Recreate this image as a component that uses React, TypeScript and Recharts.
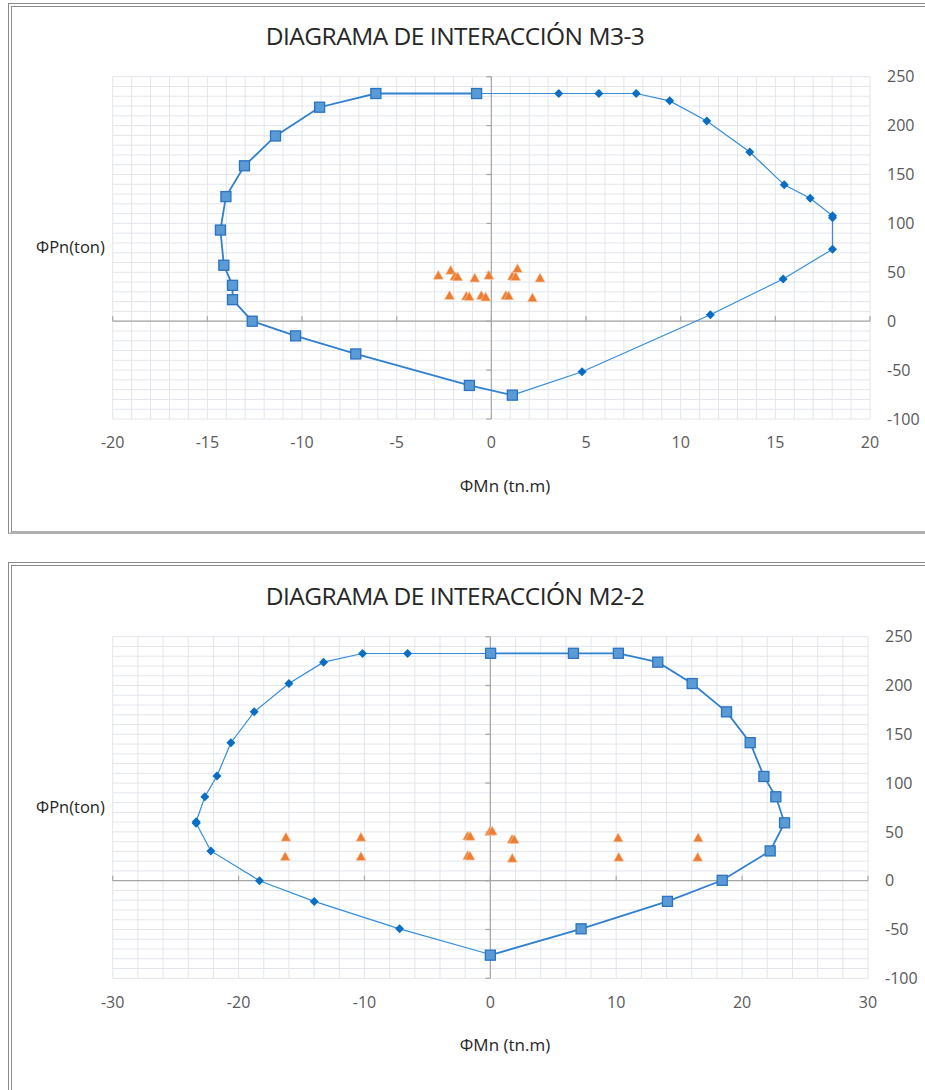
import React from "react";
import {
  ScatterChart,
  Scatter,
  XAxis,
  YAxis,
  CartesianGrid,
  ReferenceLine,
} from "recharts";

// ---- M3-3 ----
const m33Neg = [
  [-0.78, 232.8], [-6.1, 232.8], [-9.07, 218.8], [-11.4, 189.4], [-13.04, 158.9],
  [-14.02, 127.4], [-14.31, 93.2], [-14.13, 57.2], [-13.67, 36.7], [-13.67, 22],
  [-12.63, 0], [-10.34, -15], [-7.16, -33.5], [-1.16, -65.7], [1.11, -75.6],
];
const m33Pos = [
  [-0.78, 232.8], [3.56, 232.8], [5.68, 232.8], [7.65, 232.8], [9.42, 225.3],
  [11.38, 204.8], [13.65, 173], [15.47, 139.4], [16.84, 125.7], [18.02, 107.8],
  [18.02, 105.8], [18.02, 73.6], [15.41, 43.1], [11.57, 6.6], [4.79, -51.7], [1.11, -75.6],
];
const m33Loads = [
  [-2.8, 46.9], [-2.15, 52.1], [-1.93, 45.9], [-1.78, 45.5], [-0.88, 44.2], [-0.13, 46.9],
  [1.11, 46.2], [1.28, 45.6], [1.38, 53.8], [2.57, 44.2],
  [-2.21, 26.4], [-1.32, 25.7], [-1.17, 25.3], [-0.53, 26.4], [-0.3, 24.7], [0.76, 26.4],
  [0.91, 26.0], [2.17, 24.0],
];
const m33XTicks = [-20, -15, -10, -5, 0, 5, 10, 15, 20];

// ---- M2-2 ----
const m22Left = [
  [0, 232.8], [-6.57, 232.8], [-10.15, 232.8], [-13.25, 223.9], [-16.0, 202],
  [-18.76, 173], [-20.61, 141.4], [-21.72, 107.2], [-22.68, 86], [-23.37, 60.5],
  [-23.37, 58.8], [-22.2, 30.5], [-18.34, 0], [-13.99, -21.2], [-7.21, -49.3], [0, -75.6],
];
const m22Right = [
  [0.02, 233.0], [6.6, 233.0], [10.17, 233.0], [13.3, 223.9], [16.03, 202], [18.76, 173],
  [20.64, 141.4], [21.73, 106.8], [22.68, 86], [23.37, 59.3], [22.23, 30.5], [18.42, 0.4],
  [14.07, -21.2], [7.21, -49.3], [0, -76.3],
];
const m22Loads = [
  [-16.24, 44.6], [-10.28, 44.6], [-1.8, 45.9], [-1.6, 45.5], [-0.05, 50.3], [0.15, 51],
  [1.72, 42.5], [1.9, 42.2], [10.15, 43.9], [16.51, 43.9],
  [-16.3, 24.7], [-10.28, 24.7], [-1.8, 25.7], [-1.62, 25.3], [1.74, 23], [10.2, 24],
  [16.47, 24],
];
const m22XTicks = [-30, -20, -10, 0, 10, 20, 30];

const yTicks = [-100, -50, 0, 50, 100, 150, 200, 250];

const pts = (arr: number[][]) => arr.map(([x, y]) => ({ x, y }));

function range(a: number, b: number, s: number) {
  const r: number[] = [];
  for (let v = a; v <= b + 1e-9; v += s) r.push(Math.round(v * 100) / 100);
  return r;
}

const FONT = "'Open Sans', sans-serif";

const Square = (p: any) => (
  <rect x={p.cx - 5} y={p.cy - 5} width={10} height={10} fill="#5b9bd5" stroke="#2a72c2" strokeWidth={1.3} />
);
const Diamond = (p: any) => (
  <polygon
    points={`${p.cx},${p.cy - 4.5} ${p.cx + 4.5},${p.cy} ${p.cx},${p.cy + 4.5} ${p.cx - 4.5},${p.cy}`}
    fill="#0a6ec4"
  />
);
const Triangle = (p: any) => (
  <polygon
    points={`${p.cx},${p.cy - 5} ${p.cx + 5},${p.cy + 4} ${p.cx - 5},${p.cy + 4}`}
    fill="#ed7d31"
    stroke="#f8cbad"
    strokeWidth={0.6}
  />
);

type DiagramProps = {
  top: number;
  height: number;
  plotRight: number;
  plotBottom: number;
  xTicks: number[];
  xMinor: number;
  thinSeries: number[][];
  thinShape: any;
  thickSeries: number[][];
  thickShape: any;
  loads: number[][];
  title: string;
};

function Diagram(p: DiagramProps) {
  const xMin = p.xTicks[0];
  const xMax = p.xTicks[p.xTicks.length - 1];
  const minorX = range(xMin, xMax, p.xMinor);
  const minorY = range(-100, 250, 10);
  const pxPerX = (p.plotRight - 112.7) / (xMax - xMin);
  const pxPerY = (p.plotBottom - 76.7) / 350;
  const tickX = 5 / pxPerX;
  const tickY = 5 / pxPerY;
  return (
    <div style={{ position: "absolute", left: 0, top: p.top, width: 925, height: p.height }}>
      <div
        style={{
          position: "absolute",
          left: 0,
          width: 910,
          top: 19,
          textAlign: "center",
          fontFamily: FONT,
          fontSize: 24.5,
          color: "#262626",
          letterSpacing: -0.5,
        }}
      >
        {p.title}
      </div>
      <div style={{ position: "absolute", left: 36, top: 235, fontFamily: FONT, fontSize: 16.5, color: "#262626" }}>
        ΦPn(ton)
      </div>
      <div
        style={{
          position: "absolute",
          left: 405,
          width: 200,
          textAlign: "center",
          top: p.plotBottom + 55,
          fontFamily: FONT,
          fontSize: 17,
          color: "#262626",
        }}
      >
        ΦMn (tn.m)
      </div>
      <ScatterChart
        width={925}
        height={p.height}
        margin={{ top: 76.7, left: 112.7, right: 925 - p.plotRight - 40, bottom: p.height - p.plotBottom - 30 }}
        style={{ position: "absolute", left: 0, top: 0, fontFamily: FONT }}
      >
        <CartesianGrid stroke="#e2e6ec" strokeWidth={1} />
        <XAxis
          type="number"
          dataKey="x"
          domain={[xMin, xMax]}
          ticks={minorX}
          interval={0}
          height={30}
          axisLine={false}
          tickLine={false}
          tickMargin={12}
          tickFormatter={(v: number) => (p.xTicks.includes(v) ? String(v) : "")}
          tick={{ fontSize: 16, fill: "#595959", fontFamily: FONT }}
        />
        <YAxis
          type="number"
          dataKey="y"
          orientation="right"
          domain={[-100, 250]}
          ticks={minorY}
          interval={0}
          width={40}
          axisLine={false}
          tickLine={false}
          tickMargin={11}
          tickFormatter={(v: number) => (yTicks.includes(v) ? String(v) : "")}
          tick={{ fontSize: 16, fill: "#595959", fontFamily: FONT, textAnchor: "start" }}
        />
        <ReferenceLine y={0} stroke="#a6a6a6" strokeWidth={1.2} />
        <ReferenceLine x={0} stroke="#a6a6a6" strokeWidth={1.2} />
        {p.xTicks.map((t) => (
          <ReferenceLine
            key={"xt" + t}
            segment={[{ x: t, y: 0 }, { x: t, y: tickY }]}
            stroke="#a6a6a6"
            strokeWidth={1.2}
            ifOverflow="visible"
          />
        ))}
        {yTicks.map((t) => (
          <ReferenceLine
            key={"yt" + t}
            segment={[{ x: 0, y: t }, { x: -tickX, y: t }]}
            stroke="#a6a6a6"
            strokeWidth={1.2}
            ifOverflow="visible"
          />
        ))}
        <Scatter
          data={pts(p.thinSeries)}
          line={{ stroke: "#358ddc", strokeWidth: 1.2 }}
          lineType="joint"
          shape={p.thinShape}
          isAnimationActive={false}
        />
        <Scatter
          data={pts(p.thickSeries)}
          line={{ stroke: "#2f80cf", strokeWidth: 1.8 }}
          lineType="joint"
          shape={p.thickShape}
          isAnimationActive={false}
        />
        <Scatter data={pts(p.loads)} shape={Triangle} isAnimationActive={false} />
      </ScatterChart>
    </div>
  );
}

export default function App() {
  const panel = (top: number, height: number): React.CSSProperties => ({
    position: "absolute",
    left: 8,
    top,
    width: 940,
    height,
    borderTop: "4px double #8a8a8a",
    borderLeft: "4px double #8a8a8a",
    borderBottom: "3px solid #b0b0b0",
    boxSizing: "border-box",
  });
  return (
    <div style={{ position: "absolute", left: 0, top: 0, width: 925, height: 1090, overflow: "hidden", background: "#fff" }}>
      <div style={panel(3, 531)} />
      <div style={panel(562, 560)} />
      <Diagram
        top={0}
        height={540}
        plotRight={870}
        plotBottom={419}
        xTicks={m33XTicks}
        xMinor={1}
        thinSeries={m33Pos}
        thinShape={Diamond}
        thickSeries={m33Neg}
        thickShape={Square}
        loads={m33Loads}
        title="DIAGRAMA DE INTERACCIÓN M3-3"
      />
      <Diagram
        top={560}
        height={530}
        plotRight={868}
        plotBottom={418.3}
        xTicks={m22XTicks}
        xMinor={2}
        thinSeries={m22Left}
        thinShape={Diamond}
        thickSeries={m22Right}
        thickShape={Square}
        loads={m22Loads}
        title="DIAGRAMA DE INTERACCIÓN M2-2"
      />
    </div>
  );
}
